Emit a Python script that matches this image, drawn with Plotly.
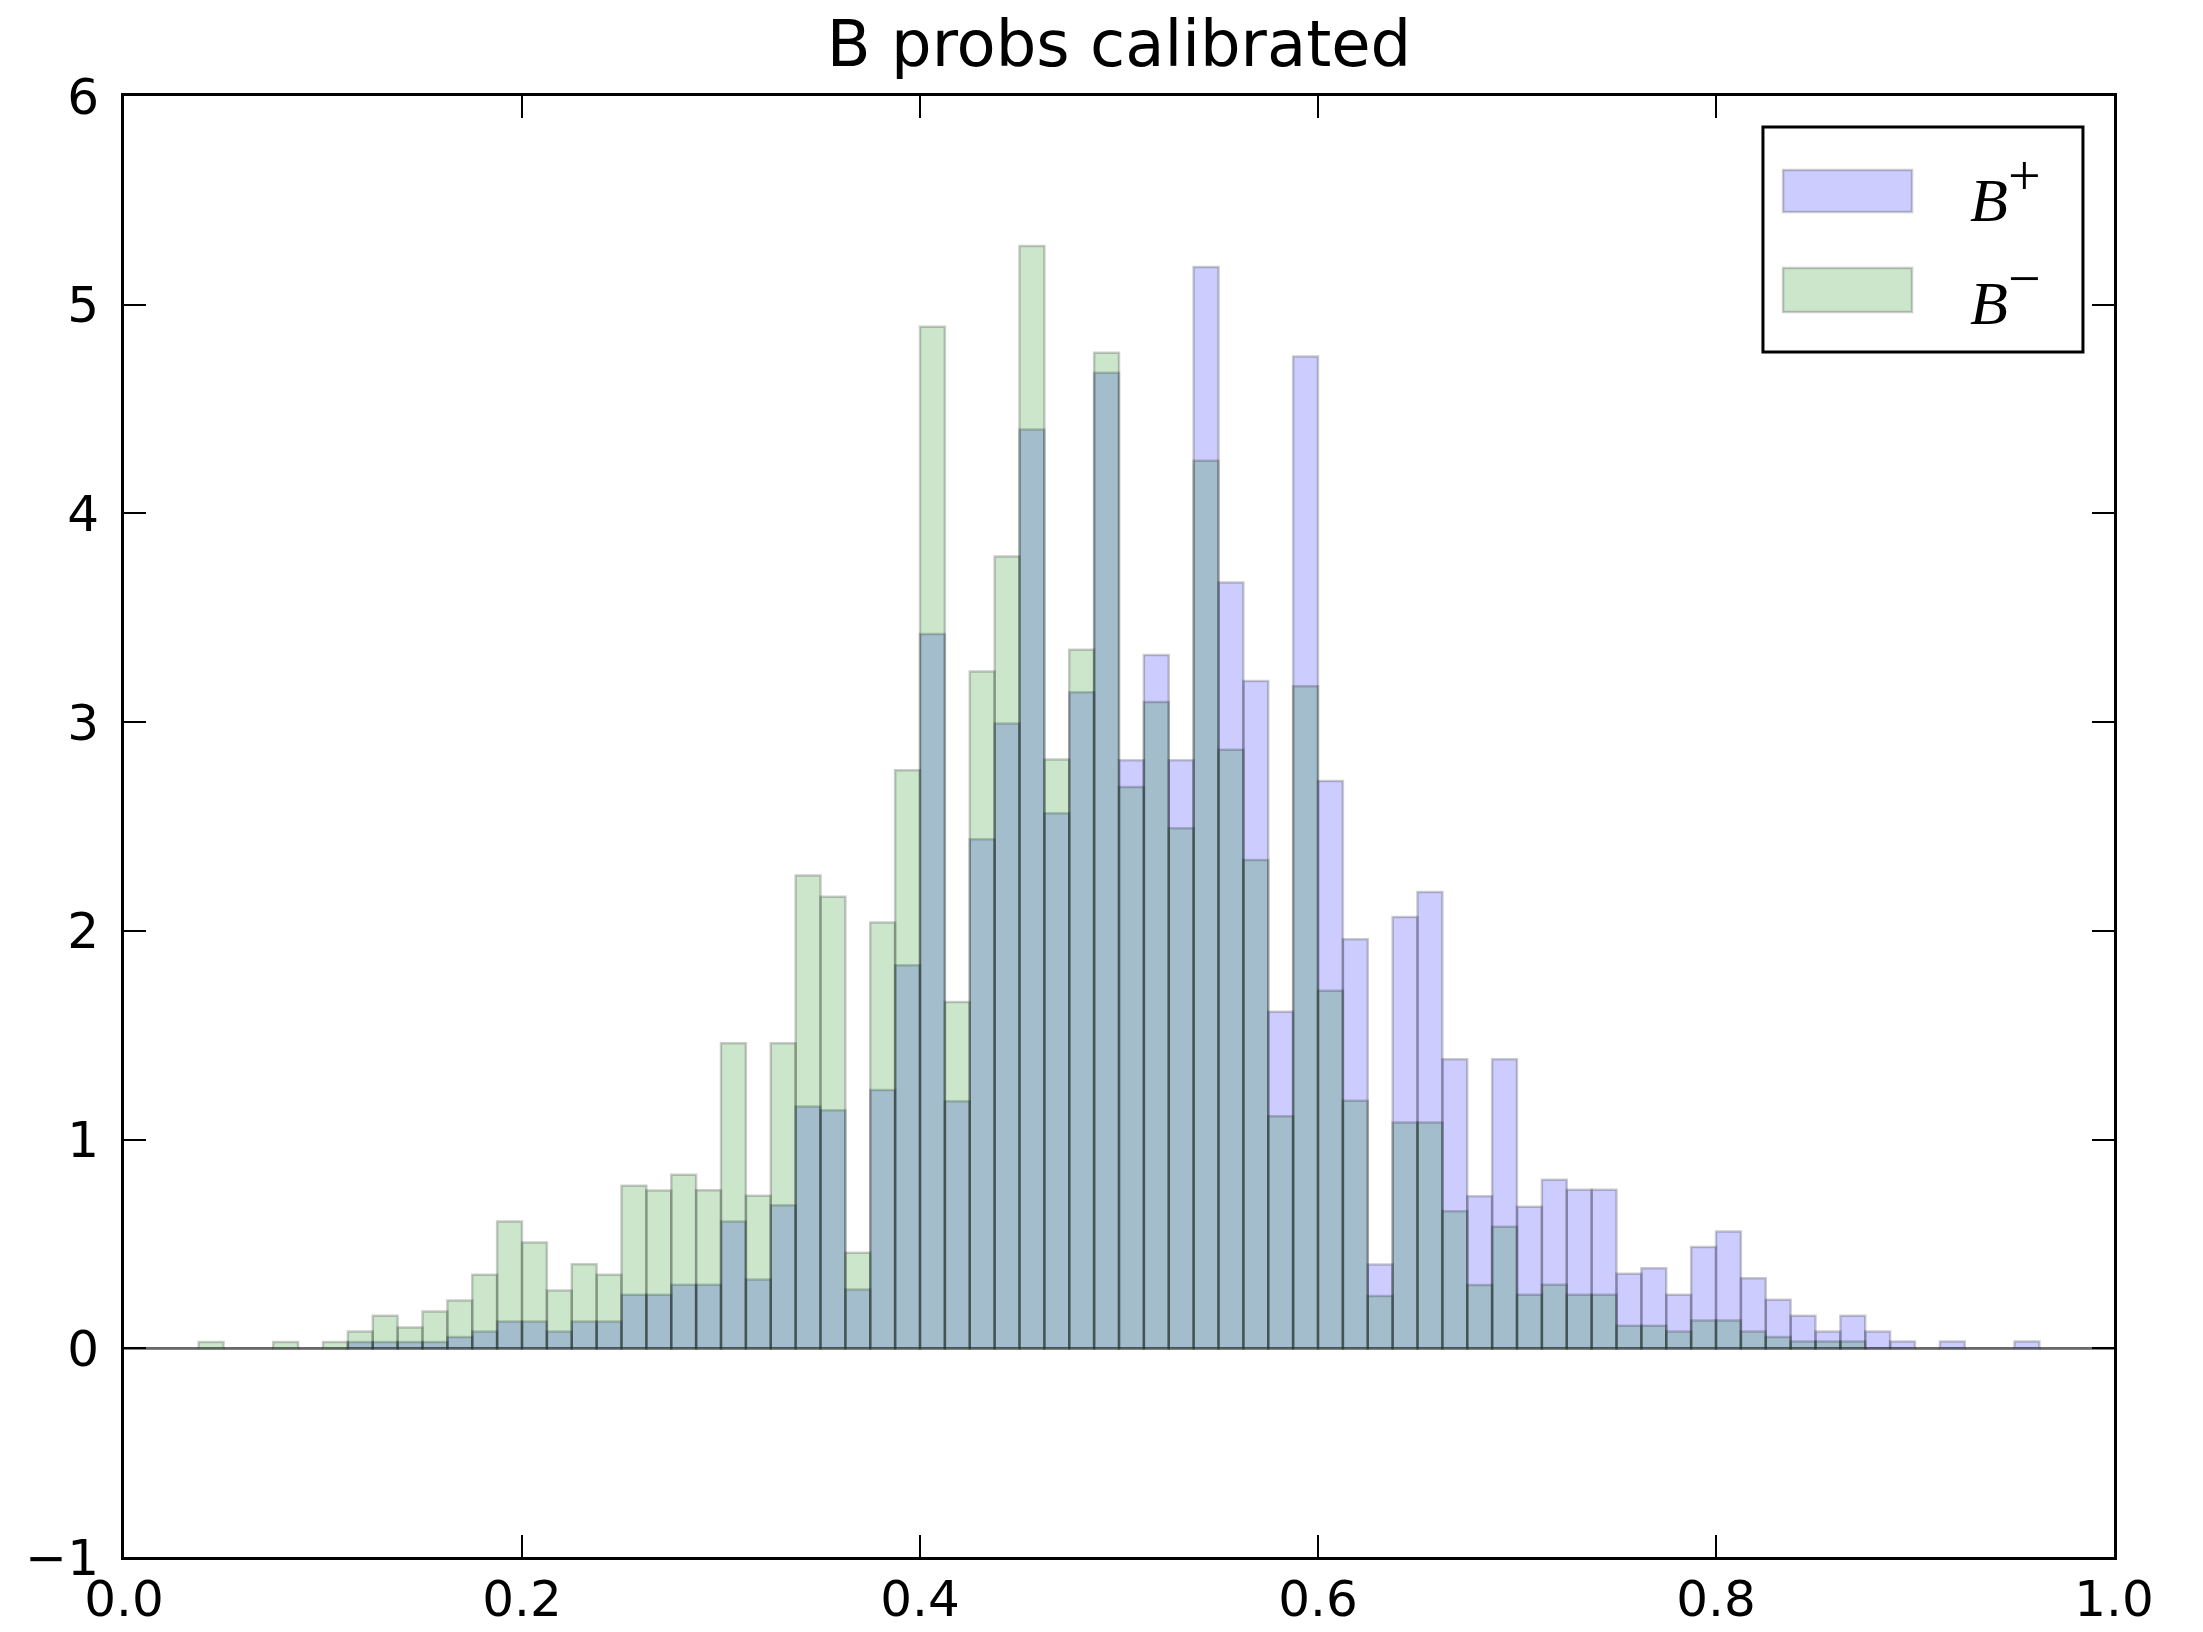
import numpy as np
import plotly.graph_objects as go

# Histogram: 80 bins of equal width over [0, 1]
N_BINS = 80
BIN_EDGES = np.linspace(0.0, 1.0, N_BINS + 1)
BIN_CENTERS = (BIN_EDGES[:-1] + BIN_EDGES[1:]) / 2
BIN_WIDTH = BIN_EDGES[1] - BIN_EDGES[0]

# Normalised density per bin
B_PLUS = [
    0, 0, 0, 0, 0, 0, 0, 0, 0, 0.03,
    0.03, 0.03, 0.03, 0.054, 0.08, 0.128, 0.128, 0.08, 0.128, 0.128,
    0.256, 0.256, 0.304, 0.304, 0.608, 0.329, 0.685, 1.159, 1.14, 0.282,
    1.238, 1.835, 3.422, 1.184, 2.439, 2.993, 4.402, 2.564, 3.143, 4.674,
    2.818, 3.322, 2.818, 5.181, 3.669, 3.197, 1.613, 4.752, 2.718, 1.96,
    0.402, 2.066, 2.186, 1.385, 0.729, 1.385, 0.678, 0.807, 0.759, 0.759,
    0.357, 0.384, 0.256, 0.485, 0.56, 0.336, 0.232, 0.156, 0.08, 0.156,
    0.08, 0.033, 0, 0.033, 0, 0, 0.033, 0, 0, 0,
]
B_MINUS = [
    0, 0, 0, 0.03, 0, 0, 0.03, 0, 0.03, 0.08,
    0.156, 0.10, 0.176, 0.229, 0.352, 0.608, 0.507, 0.277, 0.403, 0.352,
    0.779, 0.756, 0.831, 0.757, 1.462, 0.731, 1.462, 2.265, 2.163, 0.458,
    2.04, 2.769, 4.895, 1.659, 3.243, 3.794, 5.281, 2.821, 3.347, 4.77,
    2.689, 3.097, 2.492, 4.252, 2.868, 2.339, 1.112, 3.172, 1.713, 1.186,
    0.25, 1.082, 1.082, 0.657, 0.303, 0.582, 0.256, 0.304, 0.256, 0.256,
    0.108, 0.108, 0.08, 0.133, 0.133, 0.08, 0.054, 0.033, 0.033, 0.033,
    0, 0, 0, 0, 0, 0, 0, 0, 0, 0,
]

X_TICKS = [0.0, 0.2, 0.4, 0.6, 0.8, 1.0]
X_TICK_TEXT = ["0.0", "0.2", "0.4", "0.6", "0.8", "1.0"]
Y_TICKS = [-1, 0, 1, 2, 3, 4, 5, 6]

TITLE = "B probs calibrated"
LABEL_PLUS = "<i>B</i><sup><span style='font-size:58px'>+</span></sup>"
LABEL_MINUS = "<i>B</i><sup><span style='font-size:58px'>−</span></sup>"

BLUE_FILL = "rgba(0,0,255,0.2)"
GREEN_FILL = "rgba(0,128,0,0.2)"
EDGE = "rgba(0,0,0,0.2)"

fig = go.Figure()
fig.add_trace(go.Bar(x=BIN_CENTERS, y=B_PLUS, width=BIN_WIDTH, name="B+",
                     marker=dict(color=BLUE_FILL, line=dict(color=EDGE, width=2.5)),
                     showlegend=False))
fig.add_trace(go.Bar(x=BIN_CENTERS, y=B_MINUS, width=BIN_WIDTH, name="B-",
                     marker=dict(color=GREEN_FILL, line=dict(color=EDGE, width=2.5)),
                     showlegend=False))

tickfont = dict(family="DejaVu Sans", size=50, color="black")
fig.update_layout(
    width=2203, height=1632,
    margin=dict(l=124, r=89, t=96, b=75),
    barmode="overlay",
    paper_bgcolor="white", plot_bgcolor="white",
    title=dict(text=TITLE, x=0.5, xref="paper", xanchor="center",
               y=1 - 66 / 1632, yref="container", yanchor="bottom",
               font=dict(family="DejaVu Sans", size=64, color="black")),
    xaxis=dict(range=[0, 1], tickvals=X_TICKS, ticktext=X_TICK_TEXT,
               showgrid=False, zeroline=False, showline=True, mirror="ticks",
               linecolor="black", linewidth=3, ticks="inside", ticklen=22,
               tickwidth=2, tickcolor="black", tickfont=tickfont,
               ticklabelstandoff=-4, automargin=False),
    yaxis=dict(range=[-1, 6], tickvals=Y_TICKS,
               showgrid=False, zeroline=True, zerolinecolor="#a3a3a3",
               zerolinewidth=2.5, showline=True, mirror="ticks",
               linecolor="black", linewidth=3, ticks="inside", ticklen=22,
               tickwidth=2, tickcolor="black", tickfont=tickfont,
               ticklabelstandoff=12, automargin=False),
)

# Matplotlib-style legend box drawn with shapes
fig.add_shape(type="rect", xref="paper", yref="paper",
              x0=0.8236, x1=0.9844, y0=0.8248, y1=0.9788,
              line=dict(color="black", width=3), fillcolor="white", layer="above")
fig.add_shape(type="rect", xref="paper", yref="paper",
              x0=0.8337, x1=0.8985, y0=0.9206, y1=0.9493,
              line=dict(color=EDGE, width=2.5), fillcolor=BLUE_FILL, layer="above")
fig.add_shape(type="rect", xref="paper", yref="paper",
              x0=0.8337, x1=0.8985, y0=0.8522, y1=0.8823,
              line=dict(color=EDGE, width=2.5), fillcolor=GREEN_FILL, layer="above")
legend_font = dict(family="Liberation Serif", size=62, color="black")
fig.add_annotation(text=LABEL_PLUS, xref="paper", yref="paper", x=0.9266, y=0.937,
                   xanchor="left", yanchor="middle", showarrow=False, font=legend_font)
fig.add_annotation(text=LABEL_MINUS, xref="paper", yref="paper", x=0.9266, y=0.8659,
                   xanchor="left", yanchor="middle", showarrow=False, font=legend_font)

fig.write_html("out.html")
